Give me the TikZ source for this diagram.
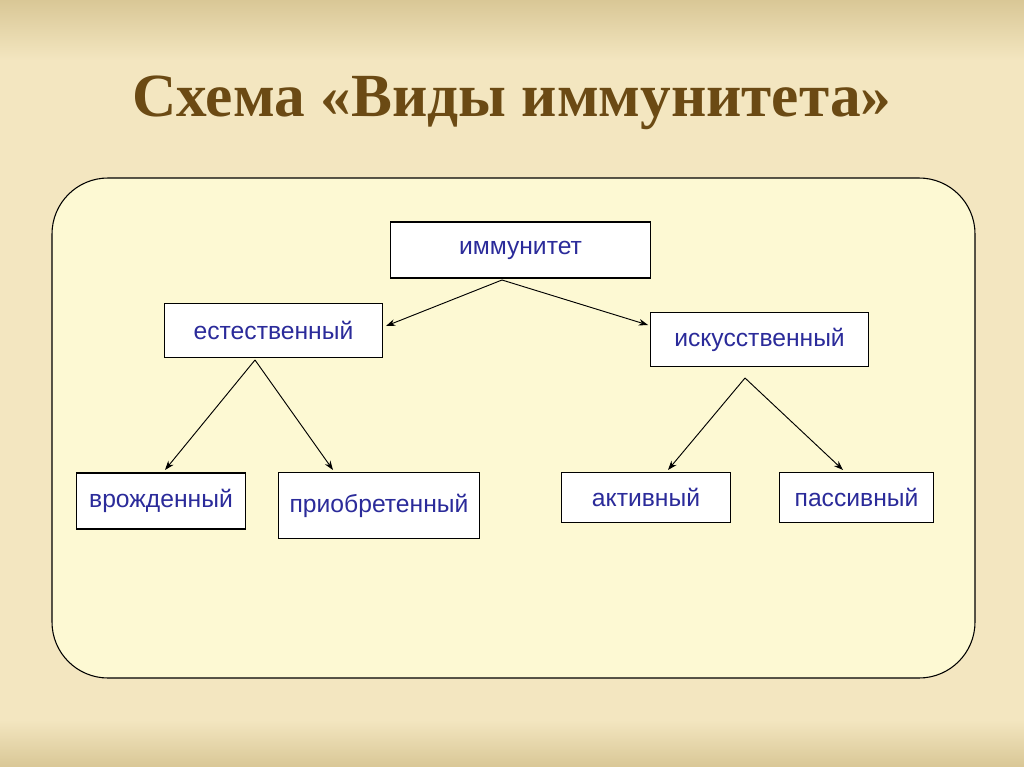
\documentclass[tikz,border=0pt]{standalone}
\usepackage{fontspec}
\setmainfont{Liberation Sans}
\newfontfamily\titlefont{Liberation Serif}
\usetikzlibrary{arrows.meta}
\definecolor{bgA}{HTML}{F3E6C0}
\definecolor{bgB}{HTML}{D9C796}
\definecolor{panel}{HTML}{FDF9D3}
\definecolor{txt}{HTML}{2B2B9A}
\definecolor{ttl}{HTML}{6B4A14}
\tikzset{
  box/.style={draw=black,fill=white,line width=0.8pt,inner sep=0pt,text=txt,font=\fontsize{18.5}{18.5}\selectfont},
  arr/.style={-{Stealth[length=7pt,width=5pt]},line width=0.7pt}
}
\begin{document}
\begin{tikzpicture}[x=0.75pt,y=-0.75pt]
\useasboundingbox (0,0) rectangle (1024,767);
\shade[top color=bgB,bottom color=bgA] (0,0) rectangle (1024,60);
\fill[bgA] (0,60) rectangle (1024,720);
\shade[top color=bgA,bottom color=bgB] (0,720) rectangle (1024,767);
\node (title) [text=ttl,font=\titlefont\bfseries\fontsize{46}{46}\selectfont] at (512,103) {Схема «Виды иммунитета»};
\draw[fill=panel,line width=0.8pt,rounded corners=42pt] (52,178) rectangle (975,678);
\node (imm) [box,minimum width=195pt,minimum height=42pt] at (520.5,250) {иммунитет};
\node (est) [box,minimum width=163pt,minimum height=41pt] at (273.5,330.5) {естественный};
\node (isk) [box,minimum width=163pt,minimum height=41pt] at (759.5,339.5) {искусственный};
\node (vro) [box,minimum width=127pt,minimum height=42pt] at (161,501) {врожденный};
\node (pri) [box,minimum width=151pt,minimum height=49pt] at (379,505.5) {приобретенный};
\node (akt) [box,minimum width=127pt,minimum height=37pt] at (646,497.5) {активный};
\node (pas) [box,minimum width=115pt,minimum height=37pt] at (856.5,497.5) {пассивный};
\coordinate (s1) at (502,280);
\coordinate (s2) at (255,360);
\coordinate (s3) at (745,378);
\draw[arr] (s1) -- (386,326);
\draw[arr] (s1) -- (648,325);
\draw[arr] (s2) -- (165,470);
\draw[arr] (s2) -- (333,470);
\draw[arr] (s3) -- (668,470);
\draw[arr] (s3) -- (843,470);
\end{tikzpicture}
\end{document}
